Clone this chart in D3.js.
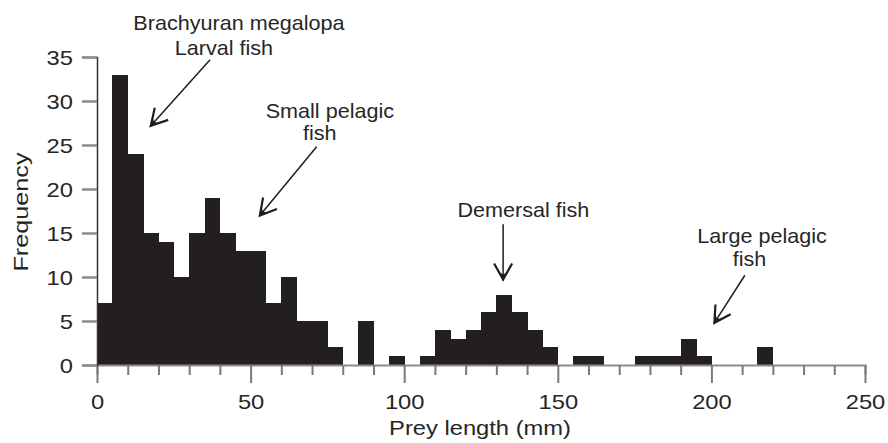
<!DOCTYPE html>
<html>
<head>
<meta charset="utf-8">
<script src="https://cdn.jsdelivr.net/npm/d3@7"></script>
<style>
    html, body { margin: 0; padding: 0; background: #fff; }
    svg { display: block; }
    text { font-family: "Liberation Sans", Arial, sans-serif; fill: #262626; }
</style>
</head>
<body>
<svg id="chart"></svg>
<script>
// prey length bins (mm, left edge) and how many prey fell in each
const binStarts = [0, 5, 10, 15, 20, 25, 30, 35, 40, 45,
                   50, 55, 60, 65, 70, 75, 80, 85, 90, 95,
                   100, 105, 110, 115, 120, 125, 130, 135, 140, 145,
                   150, 155, 160, 165, 170, 175, 180, 185, 190, 195,
                   200, 205, 210, 215, 220, 225, 230, 235, 240, 245];
const counts = [7, 33, 24, 15, 14, 10, 15, 19, 15, 13,
                13, 7, 10, 5, 5, 2, 0, 5, 0, 1,
                0, 1, 4, 3, 4, 6, 8, 6, 4, 2,
                0, 1, 1, 0, 0, 1, 1, 1, 3, 1,
                0, 0, 0, 2, 0, 0, 0, 0, 0, 0];
const binWidth = 5;

const xTicks = [0, 10, 20, 30, 40, 50, 60, 70, 80, 90, 100, 110, 120, 130, 140,
                150, 160, 170, 180, 190, 200, 210, 220, 230, 240, 250];
const xLabelled = [0, 50, 100, 150, 200, 250];
const yTicks = [0, 5, 10, 15, 20, 25, 30, 35];

// annotation text, placed in data units (mm, frequency)
const noteText = ['Brachyuran megalopa', 'Larval fish', 'Small pelagic', 'fish',
                  'Demersal fish', 'Large pelagic', 'fish'];
const noteMm = [46.2, 41.3, 75.8, 72.5, 138.8, 216.5, 212.4];
const noteFreq = [38.1, 35.2, 28.1, 25.6, 16.8, 13.9, 11.2];

// arrows: tail -> tip, in data units
const arrowFrom = [[36.8, 34.7], [71.5, 24.8], [132.2, 16.0], [210.9, 10.2]];
const arrowTo = [[17.3, 27.1], [52.8, 16.9], [132.2, 9.6], [200.8, 4.7]];

const width = 888, height = 443;
const margin = { top: 57, right: 23, bottom: 78, left: 97 };
const stretch = 1.13;   // source lettering is a little wider than Arial

const svg = d3.select('#chart')
    .attr('width', width)
    .attr('height', height);

const xScale = d3.scaleLinear()
    .domain([0, 250])
    .range([margin.left, width - margin.right]);

const yScale = d3.scaleLinear()
    .domain([0, 35])
    .range([height - margin.bottom, margin.top]);

// bars (crisp edges so neighbouring bins don't leave hairline seams)
svg.append('g')
    .attr('shape-rendering', 'crispEdges')
    .selectAll('rect')
    .data(binStarts)
    .join('rect')
    .attr('x', d => xScale(d))
    .attr('width', d => xScale(d + binWidth) - xScale(d) + 0.5)
    .attr('y', (d, i) => yScale(counts[i]))
    .attr('height', (d, i) => yScale(0) - yScale(counts[i]))
    .attr('fill', '#231f20');

// x axis
const xAxis = d3.axisBottom(xScale)
    .tickValues(xTicks)
    .tickSizeOuter(0)
    .tickSize(10)
    .tickPadding(0)
    .tickFormat(d => xLabelled.includes(d) ? d : '');

const xAxisG = svg.append('g')
    .attr('transform', `translate(0,${yScale(0)})`)
    .call(xAxis);

xAxisG.select('.domain')
    .attr('stroke', '#8c8c8c')
    .attr('stroke-width', 2);

xAxisG.selectAll('.tick line')
    .attr('stroke', '#7a7a7a')
    .attr('stroke-width', 2)
    .attr('y2', d => xLabelled.includes(d) ? 18 : 10);

xAxisG.selectAll('.tick text')
    .attr('y', 0)
    .attr('dy', 0)
    .attr('transform', `translate(0,44) scale(${stretch},1)`)
    .style('font-size', '21px')
    .style('font-family', '"Liberation Sans", Arial, sans-serif')
    .attr('fill', '#262626');

// y axis
const yAxis = d3.axisLeft(yScale)
    .tickValues(yTicks)
    .tickSizeOuter(0)
    .tickSize(15)
    .tickPadding(0);

const yAxisG = svg.append('g')
    .attr('transform', `translate(${xScale(0)},0)`)
    .call(yAxis);

yAxisG.select('.domain')
    .attr('stroke', '#333')
    .attr('stroke-width', 1.5);

yAxisG.selectAll('.tick line')
    .attr('stroke', '#8c8c8c')
    .attr('stroke-width', 2.5);

yAxisG.selectAll('.tick text')
    .attr('x', 0)
    .attr('dy', 0)
    .attr('transform', `translate(-24,7.5) scale(${stretch},1)`)
    .style('font-size', '21px')
    .style('font-family', '"Liberation Sans", Arial, sans-serif')
    .attr('fill', '#262626');

// axis titles
svg.append('text')
    .attr('transform', `translate(${xScale(125) - 1},435) scale(${stretch},1)`)
    .attr('text-anchor', 'middle')
    .style('font-size', '21px')
    .text('Prey length (mm)');

svg.append('text')
    .attr('transform', `translate(28,212) rotate(-90) scale(1.2,1)`)
    .attr('text-anchor', 'middle')
    .style('font-size', '21px')
    .text('Frequency');

// annotations
svg.append('g')
    .selectAll('text')
    .data(noteText)
    .join('text')
    .attr('transform', (d, i) => `translate(${xScale(noteMm[i])},${yScale(noteFreq[i])}) scale(1.08,1)`)
    .attr('text-anchor', 'middle')
    .style('font-size', '20px')
    .text(d => d);

// arrows: a thin shaft and an open V head with a small filled throat
const arrowG = svg.append('g');

arrowFrom.forEach((from, i) => {
    const x1 = xScale(from[0]), y1 = yScale(from[1]);
    const x2 = xScale(arrowTo[i][0]), y2 = yScale(arrowTo[i][1]);
    const angle = Math.atan2(y2 - y1, x2 - x1) * 180 / Math.PI;

    arrowG.append('line')
        .attr('x1', x1).attr('y1', y1)
        .attr('x2', x2).attr('y2', y2)
        .attr('stroke', '#1e1e1e')
        .attr('stroke-width', 1.5);

    const head = arrowG.append('g')
        .attr('transform', `translate(${x2},${y2}) rotate(${angle})`);

    head.append('path')
        .attr('d', 'M-17,-9 L-1,0 L-17,9')
        .attr('fill', 'none')
        .attr('stroke', '#1e1e1e')
        .attr('stroke-width', 2.2)
        .attr('stroke-linejoin', 'miter');

    head.append('path')
        .attr('d', 'M0,0 L-9,-5 L-6,0 L-9,5 Z')
        .attr('fill', '#1e1e1e');
});
</script>
</body>
</html>
